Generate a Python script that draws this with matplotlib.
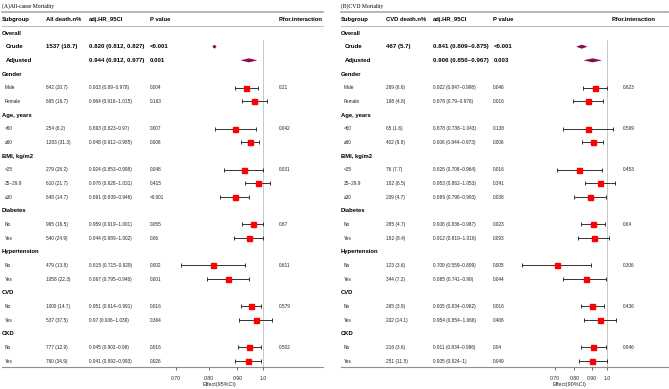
import numpy as np
import matplotlib
matplotlib.use("Agg")
import matplotlib.pyplot as plt

nan = np.nan

subgroup = ["Overall", "Crude", "Adjusted", "Gender", "Male", "Female",
            "Age, years", "<60", "≥60", "BMI, kg/m2", "<25", "25~29.9", "≥30",
            "Diabetes", "No", "Yes", "Hypertension", "No", "Yes",
            "CVD", "No", "Yes", "CKD", "No", "Yes"]
kind = ["head", "main", "main", "head", "sub", "sub",
        "head", "sub", "sub", "head", "sub", "sub", "sub",
        "head", "sub", "sub", "head", "sub", "sub",
        "head", "sub", "sub", "head", "sub", "sub"]

# (A) all-cause mortality
a_n = ["", "1537 (18.7)", "", "", "842 (20.7)", "695 (16.7)", "", "254 (6.2)", "1283 (31.3)",
       "", "279 (28.2)", "610 (21.7)", "648 (14.7)", "", "995 (16.5)", "540 (24.9)",
       "", "479 (13.8)", "1058 (22.3)", "", "1000 (14.7)", "537 (37.5)", "", "777 (12.9)", "760 (34.9)"]
a_hr = ["", "0.820 (0.812, 0.827)", "0.944 (0.912, 0.977)", "",
        "0.933 (0.89~0.978)", "0.964 (0.916~1.015)", "",
        "0.893 (0.823~0.97)", "0.948 (0.912~0.985)", "",
        "0.924 (0.853~0.998)", "0.978 (0.928~1.031)", "0.891 (0.839~0.946)", "",
        "0.959 (0.919~1.001)", "0.944 (0.889~1.002)", "",
        "0.815 (0.715~0.929)", "0.867 (0.795~0.946)", "",
        "0.951 (0.914~0.991)", "0.97 (0.906~1.039)", "",
        "0.945 (0.903~0.99)", "0.941 (0.892~0.993)"]
a_p = ["", "<0.001", "0.001", "", "0.004", "0.163", "", "0.007", "0.006", "", "0.048", "0.415", "<0.001",
       "", "0.055", "0.06", "", "0.002", "0.001", "", "0.016", "0.364", "", "0.016", "0.026"]
a_pint = ["", "", "", "", "0.21", "", "", "0.042", "", "", "0.031", "", "", "", "0.87", "",
          "", "0.611", "", "", "0.579", "", "", "0.502", ""]
a_est = [nan, 0.820, 0.944, nan, 0.933, 0.964, nan, 0.893, 0.948, nan, 0.924, 0.978, 0.891,
         nan, 0.959, 0.944, nan, 0.815, 0.867, nan, 0.951, 0.97, nan, 0.945, 0.941]
a_lo = [nan, 0.812, 0.912, nan, 0.89, 0.916, nan, 0.823, 0.912, nan, 0.853, 0.928, 0.839,
        nan, 0.919, 0.889, nan, 0.715, 0.795, nan, 0.914, 0.906, nan, 0.903, 0.892]
a_hi = [nan, 0.827, 0.977, nan, 0.978, 1.015, nan, 0.97, 0.985, nan, 0.998, 1.031, 0.946,
        nan, 1.001, 1.002, nan, 0.929, 0.946, nan, 0.991, 1.039, nan, 0.99, 0.993]

# (B) CVD mortality
b_n = ["", "467 (5.7)", "", "", "269 (6.6)", "198 (4.8)", "", "65 (1.6)", "402 (9.8)",
       "", "76 (7.7)", "182 (6.5)", "209 (4.7)", "", "285 (4.7)", "182 (8.4)",
       "", "123 (3.6)", "344 (7.2)", "", "265 (3.9)", "202 (14.1)", "", "216 (3.6)", "251 (11.5)"]
b_hr = ["", "0.841 (0.809~0.875)", "0.906 (0.850~0.967)", "",
        "0.922 (0.847~0.998)", "0.878 (0.79~0.976)", "",
        "0.878 (0.738~1.043)", "0.906 (0.844~0.973)", "",
        "0.826 (0.708~0.964)", "0.953 (0.862~1.053)", "0.889 (0.796~0.993)", "",
        "0.908 (0.836~0.987)", "0.912 (0.819~1.016)", "",
        "0.709 (0.559~0.899)", "0.865 (0.741~0.99)", "",
        "0.905 (0.834~0.982)", "0.954 (0.854~1.066)", "",
        "0.911 (0.834~0.996)", "0.905 (0.824~1)"]
b_p = ["", "<0.001", "0.003", "", "0.046", "0.016", "", "0.138", "0.006", "", "0.016", "0.341", "0.038",
       "", "0.023", "0.093", "", "0.005", "0.044", "", "0.016", "0.406", "", "0.04", "0.049"]
b_pint = ["", "", "", "", "0.623", "", "", "0.569", "", "", "0.453", "", "", "", "0.64", "",
          "", "0.306", "", "", "0.436", "", "", "0.946", ""]
b_est = [nan, 0.841, 0.906, nan, 0.922, 0.878, nan, 0.878, 0.906, nan, 0.826, 0.953, 0.889,
         nan, 0.908, 0.912, nan, 0.709, 0.865, nan, 0.905, 0.954, nan, 0.911, 0.905]
b_lo = [nan, 0.809, 0.850, nan, 0.847, 0.79, nan, 0.738, 0.844, nan, 0.708, 0.862, 0.796,
        nan, 0.836, 0.819, nan, 0.559, 0.741, nan, 0.834, 0.854, nan, 0.834, 0.824]
b_hi = [nan, 0.875, 0.967, nan, 0.998, 0.976, nan, 1.043, 0.973, nan, 0.964, 1.053, 0.993,
        nan, 0.987, 1.016, nan, 0.899, 0.99, nan, 0.982, 1.066, nan, 0.996, 1]

ticks = [0.7, 0.8, 0.9, 1.0]
tick_labels = ["0.70", "0.80", "0.90", "1.0"]

W, H = 669, 389
plt.rcParams['font.family'] = ['Liberation Sans', 'DejaVu Sans']
fig = plt.figure(figsize=(W / 100, H / 100), dpi=100)
ax = fig.add_axes([0, 0, 1, 1])
ax.set_xlim(0, W)
ax.set_ylim(H, 0)
ax.axis('off')

row_y = 33 + 13.67 * np.arange(len(subgroup))
body_col = '#222222'


def panel(x0, x1, title, ncol_title, n, hr, p, pint, est, lo, hi,
          cols, px07, px10, fx0, fx1, xlab):
    ax.text(x0, 6, title, family='Liberation Serif', fontsize=4.1, va='center')
    ax.plot([x0, x1], [12, 12], color='#b0b0b0', lw=1.3)
    ax.plot([x0, x1], [25.5, 25.5], color='#c0c0c0', lw=0.8)
    ax.plot([x0, x1], [367, 367], color='#909090', lw=0.8)
    heads = ["Subgroup", ncol_title, "adj.HR_95CI", "P value", "P.for.interaction"]
    for cx, t in zip([x0, cols[0], cols[1], cols[2], cols[3]], heads):
        ax.text(cx, 19, t, fontsize=4.2, weight='bold', va='center')
    for i, y in enumerate(row_y):
        k = kind[i]
        if k == 'head':
            ax.text(x0, y, subgroup[i], fontsize=4.2, weight='bold', va='center')
            continue
        if k == 'main':
            kw = dict(fontsize=4.4, weight='bold', color='black', va='center')
            ax.text(x0 + 4, y, subgroup[i], **kw)
        else:
            kw = dict(fontsize=3.4, color=body_col, va='center')
            ax.text(x0 + 2.5, y, subgroup[i], **kw)
        ax.text(cols[0], y, n[i], **kw)
        ax.text(cols[1], y, hr[i], **kw)
        ax.text(cols[2], y, p[i], **kw)
        ax.text(cols[4], y, pint[i], **kw)

    # forest column on a log scale
    scale = (px10 - px07) / np.log(1 / 0.7)
    xmin = 0.7 * np.exp((fx0 - px07) / scale)
    xmax = np.exp((fx1 - px10) / scale)
    fa = fig.add_axes([fx0 / W, 1 - 367 / H, (fx1 - fx0) / W, (367 - 25) / H])
    fa.set_xscale('log')
    fa.set_xlim(xmin, xmax)
    fa.set_ylim(367, 25)
    fa.patch.set_alpha(0)
    for s in fa.spines.values():
        s.set_visible(False)
    fa.set_yticks([])
    fa.set_xticks(ticks)
    fa.set_xticklabels(tick_labels)
    fa.xaxis.set_minor_locator(matplotlib.ticker.NullLocator())
    fa.tick_params(axis='x', length=2.2, width=0.6, color='#555555', pad=4.2,
                   labelsize=3.7, labelcolor='#222222')
    fa.set_xlabel(xlab, fontsize=3.9, labelpad=1.0, color='#222222')
    fa.plot([1, 1], [40, 367], color='#c8c8c8', lw=0.7, zorder=0)

    est = np.array(est)
    lo = np.array(lo)
    hi = np.array(hi)
    for i, y in enumerate(row_y):
        if np.isnan(est[i]):
            continue
        if kind[i] == 'main':
            fa.fill([lo[i], est[i], hi[i], est[i]], [y, y - 2, y, y + 2],
                    color='#8B0A50', lw=0)
        else:
            fa.errorbar(est[i], y, xerr=[[est[i] - lo[i]], [hi[i] - est[i]]],
                        fmt='s', ms=3.6, mfc='#FF0000', mec='#FF0000',
                        ecolor='#333333', elinewidth=0.7, capsize=1.4, capthick=0.7)


panel(2, 323, "(A)All-cause Mortality", "All death.n%", a_n, a_hr, a_p, a_pint,
      a_est, a_lo, a_hi, [46.5, 89.3, 150, 278.7, 278.7], 176, 263, 166, 273,
      "Effect(95%CI)")
panel(341, 668, "(B)CVD Mortality", "CVD death.n%", b_n, b_hr, b_p, b_pint,
      b_est, b_lo, b_hi, [385.7, 433, 493.3, 611.7, 622.7], 555, 607, 515, 623,
      "Effect(90%CI)")

fig.savefig("out.png", dpi=100)
